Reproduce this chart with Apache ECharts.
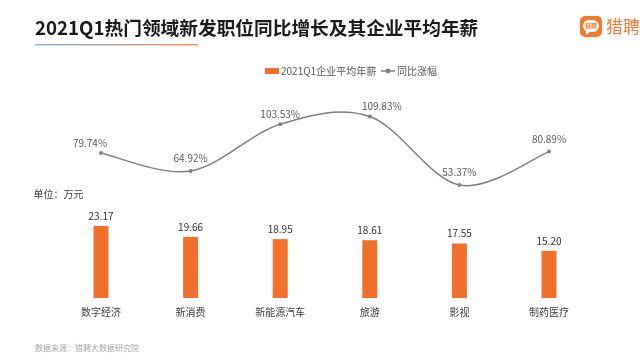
<!DOCTYPE html>
<html><head><meta charset="utf-8">
<script src="https://cdn.jsdelivr.net/npm/echarts@6/dist/echarts.min.js"></script>
<style>html,body{margin:0;padding:0;background:#fff}#c{width:640px;height:362px}</style>
</head><body><div id="c"></div>
<script>
const categories = ['数字经济','新消费','新能源汽车','旅游','影视','制药医疗'];
const salary = [23.17,19.66,18.95,18.61,17.55,15.20];
const growth = [79.74,64.92,103.53,109.83,53.37,80.89];
const growthLabelOffsets = [[-11,0],[0,-3],[0,0],[12,0],[0,-3],[0,-2]];
const FONT = '"Noto Sans CJK SC","Noto Sans",sans-serif';
const LINE = '#7f7f7f';
const chart = echarts.init(document.getElementById('c'));
// Spreadsheet-style smooth curve: segment i to i+1, anchored through the axes' own scales
function renderCurve(params, api){
  const i = params.dataIndex;
  if (i >= growth.length - 1) return null;
  const pt = k => api.coord([Math.max(0,Math.min(growth.length-1,k)), growth[Math.max(0,Math.min(growth.length-1,k))]]);
  const p0 = pt(i-1), p1 = pt(i), p2 = pt(i+1), p3 = pt(i+2);
  return {type:'bezierCurve',silent:true,
    shape:{x1:p1[0],y1:p1[1],x2:p2[0],y2:p2[1],
      cpx1:p1[0]+(p2[0]-p0[0])/6,cpy1:p1[1]+(p2[1]-p0[1])/6,
      cpx2:p2[0]-(p3[0]-p1[0])/6,cpy2:p2[1]-(p3[1]-p1[1])/6},
    style:{stroke:LINE,lineWidth:1.5,fill:null}};
}
chart.setOption({
  animation:false,
  backgroundColor:'#fff',
  textStyle:{fontFamily:FONT},
  title:{text:'2021Q1热门领域新发职位同比增长及其企业平均年薪',left:30,top:14,
    textStyle:{fontSize:18.7,fontWeight:'bold',color:'#1a1a1a',fontFamily:FONT}},
  legend:{top:61,left:260,itemGap:4,itemWidth:14,itemHeight:6,
    textStyle:{fontSize:10,color:'#595959',fontFamily:FONT,padding:[0,0,0,-3]},
    data:[{name:'2021Q1企业平均年薪',icon:'rect'},
          {name:'同比涨幅',lineStyle:{color:LINE,width:1.5,opacity:1}}]},
  grid:{left:56.2,right:46.2,top:90,bottom:64},
  xAxis:{type:'category',data:categories,
    axisLine:{show:false},axisTick:{show:false},
    axisLabel:{fontSize:10,color:'#404040',margin:9,fontFamily:FONT}},
  yAxis:[
    {type:'value',min:0,max:67,show:false},
    {type:'value',min:-39.8,max:131.7,show:false}
  ],
  series:[
    {name:'2021Q1企业平均年薪',type:'bar',yAxisIndex:0,data:salary,barWidth:15,
     itemStyle:{color:'#F2702D'},
     label:{show:true,position:'top',distance:5,fontSize:10,color:'#333',
       formatter:p=>p.value.toFixed(2)}},
    {name:'同比涨幅曲线',type:'custom',yAxisIndex:1,data:growth,renderItem:renderCurve,
     encode:{x:-1,y:0},silent:true,clip:false},
    {name:'同比涨幅',type:'line',yAxisIndex:1,smooth:true,
     data:growth.map((v,i)=>({value:v,label:{offset:growthLabelOffsets[i]}})),
     symbol:'circle',symbolSize:4,
     lineStyle:{color:LINE,width:1.5,opacity:0},itemStyle:{color:LINE},
     label:{show:true,position:'top',distance:3,fontSize:10,color:'#595959',
       formatter:p=>p.value.toFixed(2)+'%'}}
  ],
  graphic:[
    {type:'rect',shape:{x:35,y:44,width:163,height:1.6},silent:true,
     style:{fill:new echarts.graphic.LinearGradient(0,0,1,0,[{offset:0,color:'#8FB4E3'},{offset:1,color:'#F0935E'}])}},
    {type:'rect',shape:{x:580,y:16,width:22,height:21,r:5},silent:true,style:{fill:'#F4792E'}},
    {type:'rect',shape:{x:583,y:20,width:16,height:12,r:6},silent:true,style:{fill:'#fff'}},
    {type:'polygon',shape:{points:[[586,30],[591,31],[586,35]]},silent:true,style:{fill:'#fff'}},
    {type:'text',x:591,y:26,silent:true,style:{text:'猎聘',fontSize:6,fontWeight:'bold',fill:'#F4792E',align:'center',verticalAlign:'middle',fontFamily:FONT}},
    {type:'text',x:606,y:27,silent:true,style:{text:'猎聘',fontSize:17,fill:'#F4792E',align:'left',verticalAlign:'middle',fontFamily:FONT}},
    {type:'text',x:33.5,y:194,silent:true,style:{text:'单位\uFF1A万元',fontSize:10,fill:'#404040',verticalAlign:'middle',fontFamily:FONT}},
    {type:'text',x:35,y:348,silent:true,style:{text:'数据来源\uFF1A猎聘大数据研究院',fontSize:8,fill:'#a6a6a6',verticalAlign:'middle',fontFamily:FONT}}
  ]
});
</script></body></html>
